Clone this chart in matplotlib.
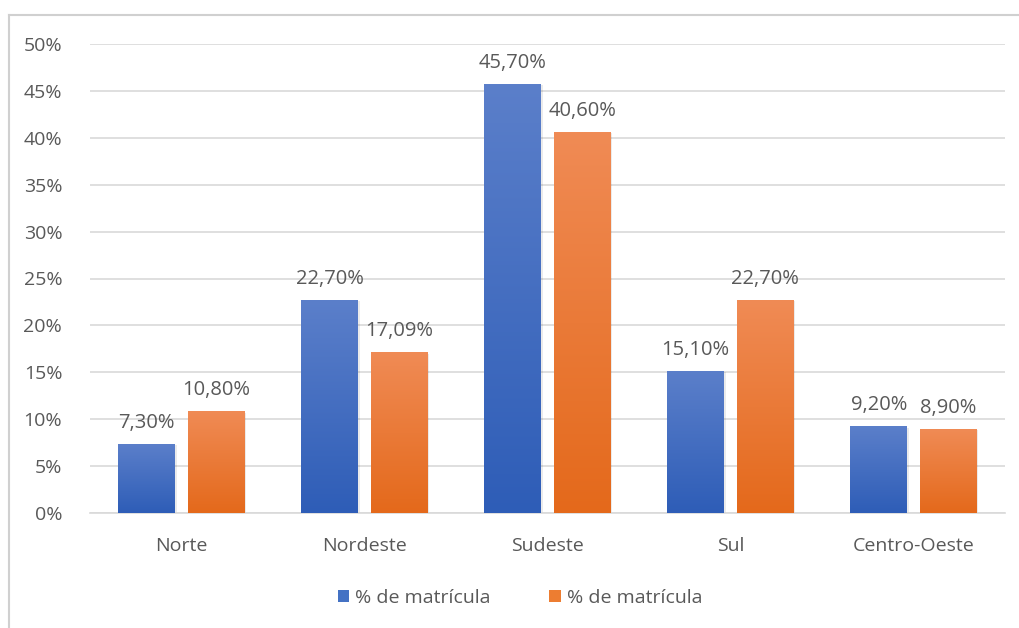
import numpy as np
import matplotlib
matplotlib.use("Agg")
from matplotlib import pyplot as plt
from matplotlib.lines import Line2D
from matplotlib.colors import LinearSegmentedColormap
from matplotlib.patches import Patch

plt.rcParams['font.family'] = ['Open Sans', 'DejaVu Sans']

regioes = ["Norte", "Nordeste", "Sudeste", "Sul", "Centro-Oeste"]
serie_a = [7.30, 22.70, 45.70, 15.10, 9.20]
serie_b = [10.80, 17.09, 40.60, 22.70, 8.90]
nome_a = "% de matrícula"
nome_b = "% de matrícula"
yticks = [0, 5, 10, 15, 20, 25, 30, 35, 40, 45, 50]

texto = "#595959"
azul_top, azul_base = "#5b7fca", "#2e5db7"
lar_top, lar_base = "#f08b55", "#e4691b"

fig = plt.figure(figsize=(10.2, 6.28), dpi=100)
ax = fig.add_axes([90 / 1020, 1 - 513 / 628, 915 / 1020, 469 / 628])

x = np.arange(len(regioes))
w = 0.31
off = 0.19


def gradient_bars(bars, c_top, c_base):
    cmap = LinearSegmentedColormap.from_list("g", [c_base, c_top])
    grad = np.linspace(0, 1, 256).reshape(-1, 1)
    for b in bars:
        b.set_facecolor("none")
        x0, y0 = b.get_x(), b.get_y()
        x1, y1 = x0 + b.get_width(), y0 + b.get_height()
        # faint shadow
        ax.fill_between([x0 + 0.01, x1 + 0.01], y0, y1 - 0.1, color="#000000",
                        alpha=0.08, zorder=2, linewidth=0)
        ax.imshow(grad, extent=[x0, x1, y0, y1], origin="lower", cmap=cmap,
                  aspect="auto", zorder=3)


bars_a = ax.bar(x - off, serie_a, w, zorder=3)
bars_b = ax.bar(x + off, serie_b, w, zorder=3)
gradient_bars(bars_a, azul_top, azul_base)
gradient_bars(bars_b, lar_top, lar_base)

for xs, vals in ((x - off, serie_a), (x + off, serie_b)):
    for xi, v in zip(xs, vals):
        ax.text(xi, v + 1.2, f"{v:.2f}%".replace(".", ","), ha="center",
                va="bottom", fontsize=14.5, color=texto)

ax.set_xlim(-0.5, len(regioes) - 0.5)
ax.set_ylim(0, 50)
ax.set_yticks(yticks)
ax.set_yticklabels([f"{t}%" for t in yticks])
ax.set_xticks(x)
ax.set_xticklabels(regioes)
ax.tick_params(length=0, labelsize=14, colors=texto)
ax.tick_params(axis="y", pad=20)
ax.tick_params(axis="x", pad=17)
ax.grid(axis="y", color="#d9d9d9", linewidth=1.2, zorder=0)
ax.set_axisbelow(True)
for s in ("top", "right", "left"):
    ax.spines[s].set_visible(False)
ax.spines["bottom"].set_color("#d9d9d9")
ax.spines["bottom"].set_linewidth(1.2)

handles = [Patch(facecolor="#4472c4"), Patch(facecolor="#ed7d31")]
fig.legend(handles, [nome_a, nome_b], loc="center", bbox_to_anchor=(520 / 1020, 1 - 598 / 628),
           ncol=2, frameon=False, fontsize=14, handlelength=0.6, handleheight=0.6,
           handletextpad=0.3, columnspacing=3.0, labelcolor=texto)

# chart frame
bx, by = 9 / 1020, 1 - 15 / 628
fig.add_artist(Line2D([bx, 1], [by, by], color="#d0d0d0", linewidth=1.5, transform=fig.transFigure))
fig.add_artist(Line2D([bx, bx], [0, by], color="#d0d0d0", linewidth=1.5, transform=fig.transFigure))

fig.savefig("out.png", dpi=100)
